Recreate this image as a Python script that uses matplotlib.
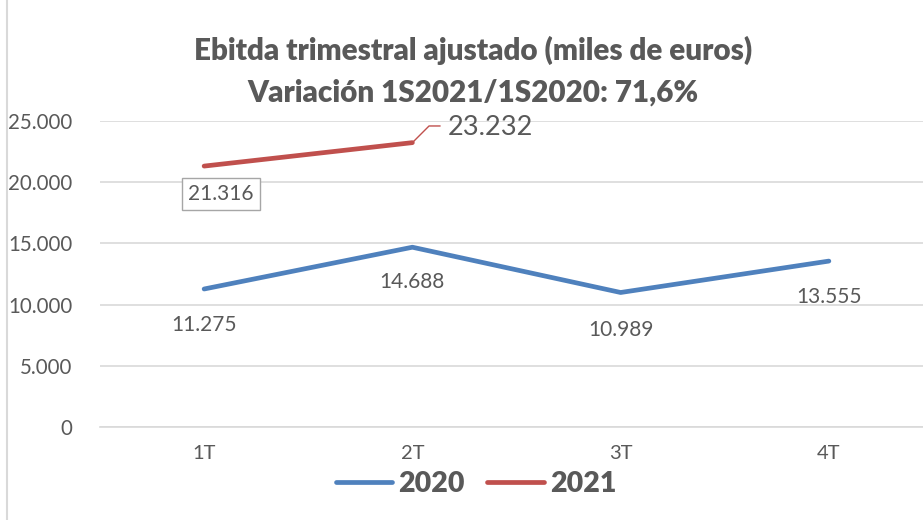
import matplotlib
matplotlib.use("Agg")
import matplotlib.pyplot as plt
from matplotlib.lines import Line2D

categories = ["1T", "2T", "3T", "4T"]
values_2020 = [11275, 14688, 10989, 13555]
values_2021 = [21316, 23232]
labels_2020 = ["11.275", "14.688", "10.989", "13.555"]
labels_2021 = ["21.316", "23.232"]
yticks = [0, 5000, 10000, 15000, 20000, 25000]
ytick_labels = ["0", "5.000", "10.000", "15.000", "20.000", "25.000"]

plt.rcParams['font.family'] = ['Lato', 'DejaVu Sans']
TXT = "#595959"
BLUE = "#4F81BD"
RED = "#C0504D"

fig = plt.figure(figsize=(9.23, 5.20), dpi=100)
fig.add_artist(Line2D([0.0075, 0.0075], [0, 1], color="#D9D9D9", lw=1.5, transform=fig.transFigure))

ax = fig.add_axes([100/923, (520-427)/520, 833/923, (427-121)/520])
x = list(range(len(categories)))
ax.plot(x, values_2020, color=BLUE, lw=3.4, solid_capstyle="round", label="2020")
ax.plot(x[:2], values_2021, color=RED, lw=3.4, solid_capstyle="round", label="2021")

ax.set_xlim(-0.5, 3.5)
ax.set_ylim(0, 25000)
ax.set_yticks(yticks)
ax.set_yticklabels(ytick_labels)
ax.set_xticks(x)
ax.set_xticklabels(categories)
ax.tick_params(axis="y", length=0, pad=20, labelsize=14.8, labelcolor=TXT)
ax.tick_params(axis="x", length=0, pad=13, labelsize=14.5, labelcolor=TXT)
ax.yaxis.grid(True, color="#D9D9D9", lw=1.2)
ax.set_axisbelow(True)
for s in ["top", "right", "left"]:
    ax.spines[s].set_visible(False)
ax.spines["bottom"].set_color("#D9D9D9")
ax.spines["bottom"].set_linewidth(1.2)

offsets_2020 = [-26, -25, -27, -26]
for xi, v, lab, off in zip(x, values_2020, labels_2020, offsets_2020):
    ax.annotate(lab, (xi, v), xytext=(0, off), textcoords="offset points",
                ha="center", va="center", fontsize=15, color=TXT)

ax.annotate(labels_2021[0], (x[0], values_2021[0]), xytext=(12, -20), textcoords="offset points",
            ha="center", va="center", fontsize=15, color=TXT,
            bbox=dict(boxstyle="square,pad=0.3", fc="white", ec="#A6A6A6", lw=1))
ax.annotate(labels_2021[1], (x[1], values_2021[1]), xytext=(56, 11), textcoords="offset points",
            ha="center", va="center", fontsize=19.5, color=TXT)
ax.annotate("", (x[1], values_2021[1]), xytext=(20, 12), textcoords="offset points",
            arrowprops=dict(arrowstyle="-", color=RED, lw=1,
                            connectionstyle="angle,angleA=0,angleB=45,rad=0", shrinkA=0, shrinkB=0))

fig.text(473/923, 1 - 50/520, "Ebitda trimestral ajustado (miles de euros)", ha="center", va="center",
         fontsize=21.3, fontweight="heavy", color=TXT)
fig.text(473/923, 1 - 93/520, "Variación 1S2021/1S2020: 71,6%", ha="center", va="center",
         fontsize=21.3, fontweight="heavy", color=TXT)

leg = fig.legend(handles=[Line2D([], [], color=BLUE, lw=3.4, solid_capstyle="round"),
                          Line2D([], [], color=RED, lw=3.4, solid_capstyle="round")],
                 labels=["2020", "2021"], loc="center", bbox_to_anchor=(476/923, 1 - 484/520),
                 ncol=2, frameon=False, handlelength=2.0, handletextpad=0.2, columnspacing=0.8,
                 prop=dict(size=20.5, weight="heavy"))
for t in leg.get_texts():
    t.set_color(TXT)

fig.savefig("out.png", dpi=100)
